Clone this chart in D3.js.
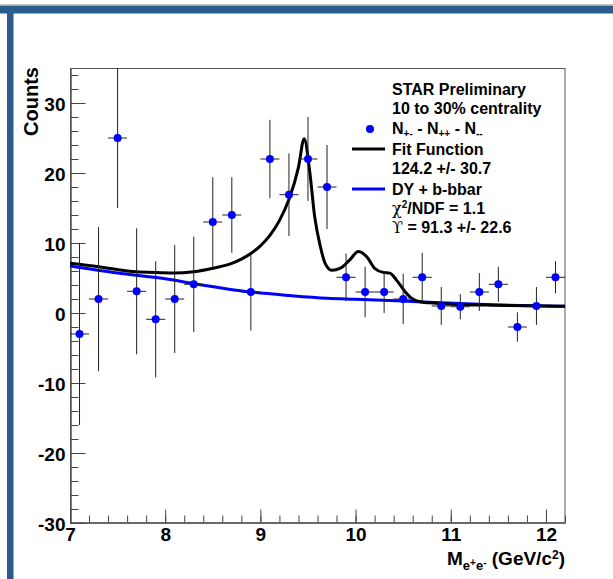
<!DOCTYPE html>
<html><head><meta charset="utf-8">
<script src="https://cdn.jsdelivr.net/npm/d3@7"></script>
<style>
html,body{margin:0;padding:0;background:#fff;}
svg{display:block;}
text{font-family:"Liberation Sans",Arial,Helvetica,sans-serif;font-weight:bold;fill:#000;}
</style></head><body>
<svg id="c" width="613" height="579"></svg>
<script>
// ---- data ----
const binCenters = [7.1,7.3,7.5,7.7,7.9,8.1,8.3,8.5,8.7,8.9,9.1,9.3,9.5,9.7,9.9,10.1,10.3,10.5,10.7,10.9,11.1,11.3,11.5,11.7,11.9,12.1];
const counts     = [-3,2,25,3.1,-0.9,2,4.1,13,14,3,22,16.9,22,18,5.1,3,3,2,5.1,1,0.9,3,4.1,-2,1,5.1];
const countErrs  = [13,10.3,10,9,8.3,7.7,6.8,6.4,5.4,5.5,5.6,5.9,6,6,3.4,3.6,3,3.6,3.5,2.7,1.8,2.7,2.5,2.1,2.7,2.3];
const binHalfWidth = 0.1;

const fitX = [7.0,7.3,7.6,7.95,8.1,8.3,8.5,8.7,8.8,8.9,9.0,9.1,9.2,9.3,9.4,9.46,9.52,9.57,9.63,9.68,9.75,9.84,9.94,10.03,10.12,10.2,10.29,10.36,10.43,10.52,10.6,10.68,10.78,11.0,11.5,12.2];
const fitY = [7.1,6.6,6.0,5.75,5.7,5.9,6.4,7.1,7.7,8.5,9.6,11.1,13.2,16.2,20.8,24.9,20,13.8,9.5,7.1,6.1,6.4,7.6,8.8,8.0,6.4,5.8,5.7,4.7,3.05,2.0,1.6,1.45,1.25,1.1,0.95];

const bgX = [7.0,7.5,8.0,8.3,8.9,9.3,9.7,10.0,10.5,10.9,11.5,12.2];
const bgY = [6.7,5.7,4.9,4.2,3.0,2.5,2.1,1.95,1.7,1.45,1.15,0.95];

const yMajorTicks = [-30,-20,-10,0,10,20,30];
const xMajorTicks = [7,8,9,10,11,12];
const xDomain = [7,12.2];
const yDomain = [-30,35];

// ---- drawing ----
const svg = d3.select("#c");
svg.append("rect").attr("width",613).attr("height",579).attr("fill","#fff");

// page decoration (blue frame band)
svg.append("line").attr("x1",0).attr("x2",613).attr("y1",4.5).attr("y2",4.5).attr("stroke","#c8c8c8").attr("stroke-width",1);
svg.append("rect").attr("x",0).attr("y",5.5).attr("width",613).attr("height",8).attr("fill","#2a5c8c");
svg.append("rect").attr("x",7).attr("y",13).attr("width",6.5).attr("height",566).attr("fill","#2a5c8c");

const x = d3.scaleLinear().domain(xDomain).range([70,565]);
const y = d3.scaleLinear().domain(yDomain).range([523,68]);
const fmt = d => String(d);

svg.append("defs").append("clipPath").attr("id","plotclip")
  .append("rect").attr("x",70).attr("y",68).attr("width",495).attr("height",455);

// frame
svg.append("rect").attr("x",70.5).attr("y",68.5).attr("width",494.5).attr("height",454.5)
  .attr("fill","none").attr("stroke","#555").attr("stroke-width",1);

// y axis
const yMinor = d3.range(-30,35,2);
const gyMinor = svg.append("g").attr("transform","translate(70.5,0)")
  .call(d3.axisLeft(y).tickValues(yMinor).tickSizeInner(-8).tickSizeOuter(0).tickFormat(""));
const gy = svg.append("g").attr("transform","translate(70.5,0)")
  .call(d3.axisLeft(y).tickValues(yMajorTicks).tickSizeInner(-15).tickSizeOuter(0).tickPadding(5).tickFormat(fmt));
[gyMinor,gy].forEach(g=>{g.selectAll("line").attr("stroke","#444");g.select(".domain").attr("stroke","#555");});
gy.selectAll("text").attr("font-size",19).attr("dy","0.42em")
  .style("font-family","'Liberation Sans',Arial,sans-serif").style("font-weight","bold").attr("fill","#000");

// x axis
const xMinor = d3.range(0,27).map(i=>7+i*0.2);
const gxMinor = svg.append("g").attr("transform","translate(0,522.5)")
  .call(d3.axisBottom(x).tickValues(xMinor).tickSizeInner(-7).tickSizeOuter(0).tickFormat(""));
const gx = svg.append("g").attr("transform","translate(0,522.5)")
  .call(d3.axisBottom(x).tickValues(xMajorTicks).tickSizeInner(-13).tickSizeOuter(0).tickPadding(5.5).tickFormat(fmt));
[gxMinor,gx].forEach(g=>{g.selectAll("line").attr("stroke","#444");g.select(".domain").attr("stroke","#555");});
gx.selectAll("text").attr("font-size",19)
  .style("font-family","'Liberation Sans',Arial,sans-serif").style("font-weight","bold").attr("fill","#000");

// axis titles
svg.append("text").attr("transform","translate(38,67) rotate(-90)")
  .attr("text-anchor","end").attr("font-size",20).text("Counts");

const xt = svg.append("text").attr("x",565).attr("y",565).attr("text-anchor","end").attr("font-size",19);
xt.append("tspan").text("M");
xt.append("tspan").attr("font-size",13).attr("dy",5).text("e");
xt.append("tspan").attr("font-size",10).attr("dy",-4).text("+");
xt.append("tspan").attr("font-size",13).attr("dy",4).text("e");
xt.append("tspan").attr("font-size",10).attr("dy",-4).text("-");
xt.append("tspan").attr("dy",-1).text(" (GeV/c");
xt.append("tspan").attr("font-size",12).attr("dy",-6).text("2");
xt.append("tspan").attr("dy",6).text(")");

// plot content
const plot = svg.append("g").attr("clip-path","url(#plotclip)");
const pts = binCenters.map((c,i)=>({x:c,y:counts[i],e:countErrs[i]}));

const line = d3.line().x(d=>x(d[0])).y(d=>y(d[1])).curve(d3.curveMonotoneX);
plot.append("path").datum(bgX.map((v,i)=>[v,bgY[i]])).attr("d",line)
  .attr("fill","none").attr("stroke","#0000ff").attr("stroke-width",3);
plot.append("path").datum(fitX.map((v,i)=>[v,fitY[i]])).attr("d",line)
  .attr("fill","none").attr("stroke","#000").attr("stroke-width",3);

const eb = plot.append("g").attr("stroke","#222").attr("stroke-width",1);
eb.selectAll("line.v").data(pts).join("line").attr("class","v")
  .attr("x1",d=>x(d.x)).attr("x2",d=>x(d.x))
  .attr("y1",d=>y(d.y+d.e)).attr("y2",d=>y(d.y-d.e));
eb.selectAll("line.h").data(pts).join("line").attr("class","h")
  .attr("x1",d=>x(d.x-binHalfWidth)).attr("x2",d=>x(d.x+binHalfWidth))
  .attr("y1",d=>y(d.y)).attr("y2",d=>y(d.y));
plot.append("g").selectAll("circle").data(pts).join("circle")
  .attr("cx",d=>x(d.x)).attr("cy",d=>y(d.y)).attr("r",4).attr("fill","#0000ff");

// legend
const lg = svg.append("g").attr("font-size",16);
const lx = 392;
lg.append("text").attr("x",lx).attr("y",95).text("STAR Preliminary");
lg.append("text").attr("x",lx).attr("y",114).text("10 to 30% centrality");
lg.append("circle").attr("cx",370).attr("cy",129).attr("r",4).attr("fill","#0000ff");
const n = lg.append("text").attr("x",lx).attr("y",134);
n.append("tspan").text("N");
n.append("tspan").attr("font-size",10).attr("dy",3).text("+-");
n.append("tspan").attr("dy",-3).text(" - N");
n.append("tspan").attr("font-size",10).attr("dy",3).text("++");
n.append("tspan").attr("dy",-3).text(" - N");
n.append("tspan").attr("font-size",10).attr("dy",3).text("--");
lg.append("line").attr("x1",352).attr("x2",385).attr("y1",149).attr("y2",149).attr("stroke","#000").attr("stroke-width",3);
lg.append("text").attr("x",lx).attr("y",155).text("Fit Function");
lg.append("text").attr("x",lx).attr("y",174).text("124.2 +/- 30.7");
lg.append("line").attr("x1",352).attr("x2",385).attr("y1",189).attr("y2",189).attr("stroke","#0000ff").attr("stroke-width",3);
lg.append("text").attr("x",lx).attr("y",195).text("DY + b-bbar");
const chi = lg.append("text").attr("x",lx).attr("y",214);
chi.append("tspan").style("font-weight","normal").attr("font-family","DejaVu Serif").text("χ");
chi.append("tspan").attr("font-size",10).attr("dy",-6).text("2");
chi.append("tspan").attr("dy",6).text("/NDF = 1.1");
const ups = lg.append("text").attr("x",lx).attr("y",233);
ups.append("tspan").style("font-weight","normal").attr("font-family","DejaVu Serif").text("ϒ");
ups.append("tspan").text(" = 91.3 +/- 22.6");
</script>
</body></html>
